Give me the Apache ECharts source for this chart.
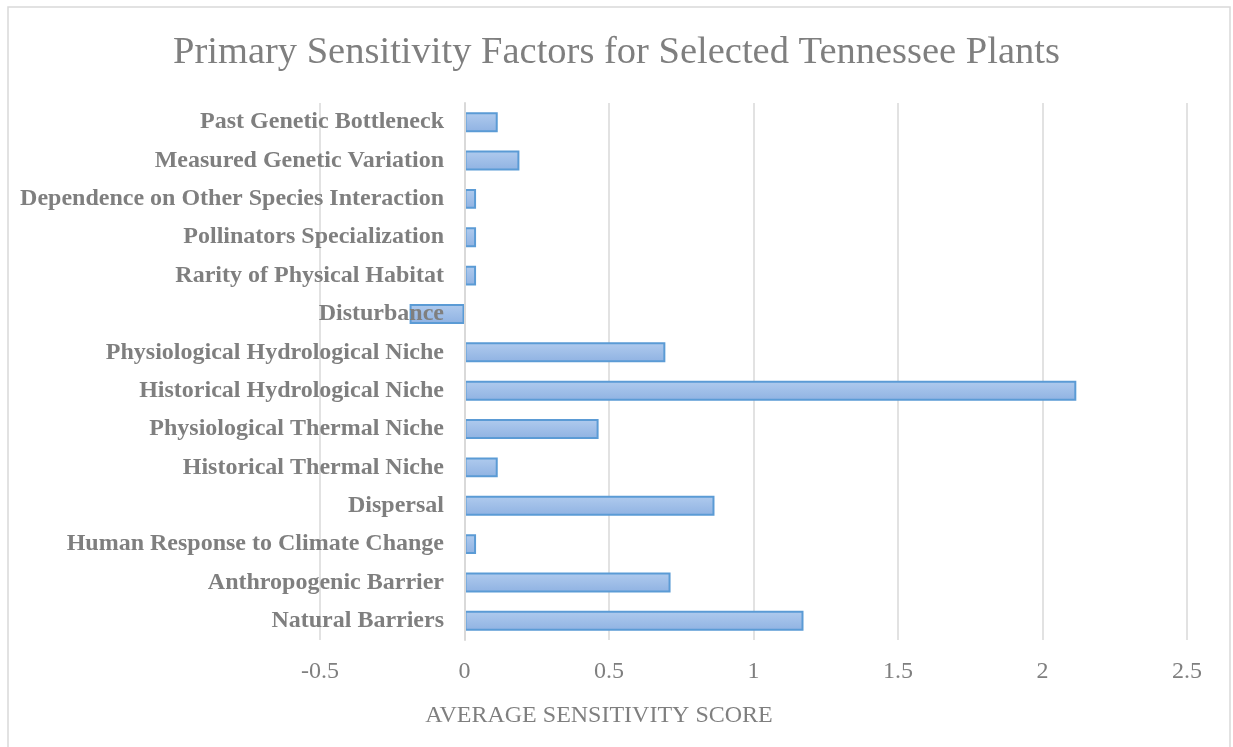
<!DOCTYPE html>
<html>
<head>
    <meta charset="utf-8">
    <style>
        html, body { width: 100%; height: 100%; margin: 0; background: #fff; }
        #chart-panel { width: 1233px; height: 747px; }
    </style>
    <script src="https://cdn.jsdelivr.net/npm/echarts@6/dist/echarts.min.js"></script>
</head>
<body>
<div id="chart-panel"></div>
<script type="text/javascript">
  // factors, listed top to bottom as in the picture
  var factors = ['Past Genetic Bottleneck', 'Measured Genetic Variation',
    'Dependence on Other Species Interaction', 'Pollinators Specialization',
    'Rarity of Physical Habitat', 'Disturbance', 'Physiological Hydrological Niche',
    'Historical Hydrological Niche', 'Physiological Thermal Niche',
    'Historical Thermal Niche', 'Dispersal', 'Human Response to Climate Change',
    'Anthropogenic Barrier', 'Natural Barriers'];
  var scores = [0.115, 0.19, 0.04, 0.04, 0.04, -0.19, 0.695,
    2.117, 0.464, 0.115, 0.865, 0.04, 0.713, 1.173];

  var grey = '#7f7f7f';
  var serif = '"Liberation Serif", "DejaVu Serif", serif';

  var myChart = echarts.init(document.getElementById('chart-panel'));

  var option = {
    animation: false,
    title: {
      text: 'Primary Sensitivity Factors for Selected Tennessee Plants',
      left: 'center',
      top: 28,
      textStyle: { fontFamily: serif, fontWeight: 'normal', fontSize: 38.5, color: grey }
    },
    grid: { left: 320, right: 46, top: 103, bottom: 107, containLabel: false, outerBoundsMode: 'none' },
    graphic: [{
      type: 'rect',
      shape: { x: 8, y: 7, width: 1222, height: 760 },
      style: { fill: 'none', stroke: '#d9d9d9', lineWidth: 1.5 },
      silent: true
    }, {
      type: 'text',
      x: 599, y: 716,
      style: {
        text: 'AVERAGE SENSITIVITY SCORE', fill: grey, fontFamily: serif, fontSize: 24,
        align: 'center', verticalAlign: 'middle'
      }
    }],
    xAxis: {
      type: 'value',
      min: -0.5, max: 2.5, interval: 0.5,
      axisLine: { show: false },
      axisTick: { show: false },
      axisLabel: { color: grey, fontFamily: serif, fontSize: 24, margin: 20 },
      splitLine: { lineStyle: { color: '#d9d9d9', width: 1.5 } }
    },
    yAxis: {
      type: 'category',
      inverse: true,
      data: factors,
      z: 5,
      axisLine: { show: true, onZero: true, lineStyle: { color: '#d9d9d9', width: 2 } },
      axisTick: { show: false },
      // labels sit next to the zero line, like the original
      axisLabel: { color: grey, fontFamily: serif, fontSize: 24, fontWeight: 'bold', margin: -124 }
    },
    series: [{
      type: 'bar',
      data: scores,
      barCategoryGap: '48%',
      itemStyle: {
        borderColor: '#5b9bd5',
        borderWidth: 2,
        color: new echarts.graphic.LinearGradient(0, 0, 0, 1, [
          { offset: 0, color: '#b0cbee' },
          { offset: 1, color: '#8fb2e2' }
        ])
      }
    }]
  };

  myChart.setOption(option);
</script>
</body>
</html>
